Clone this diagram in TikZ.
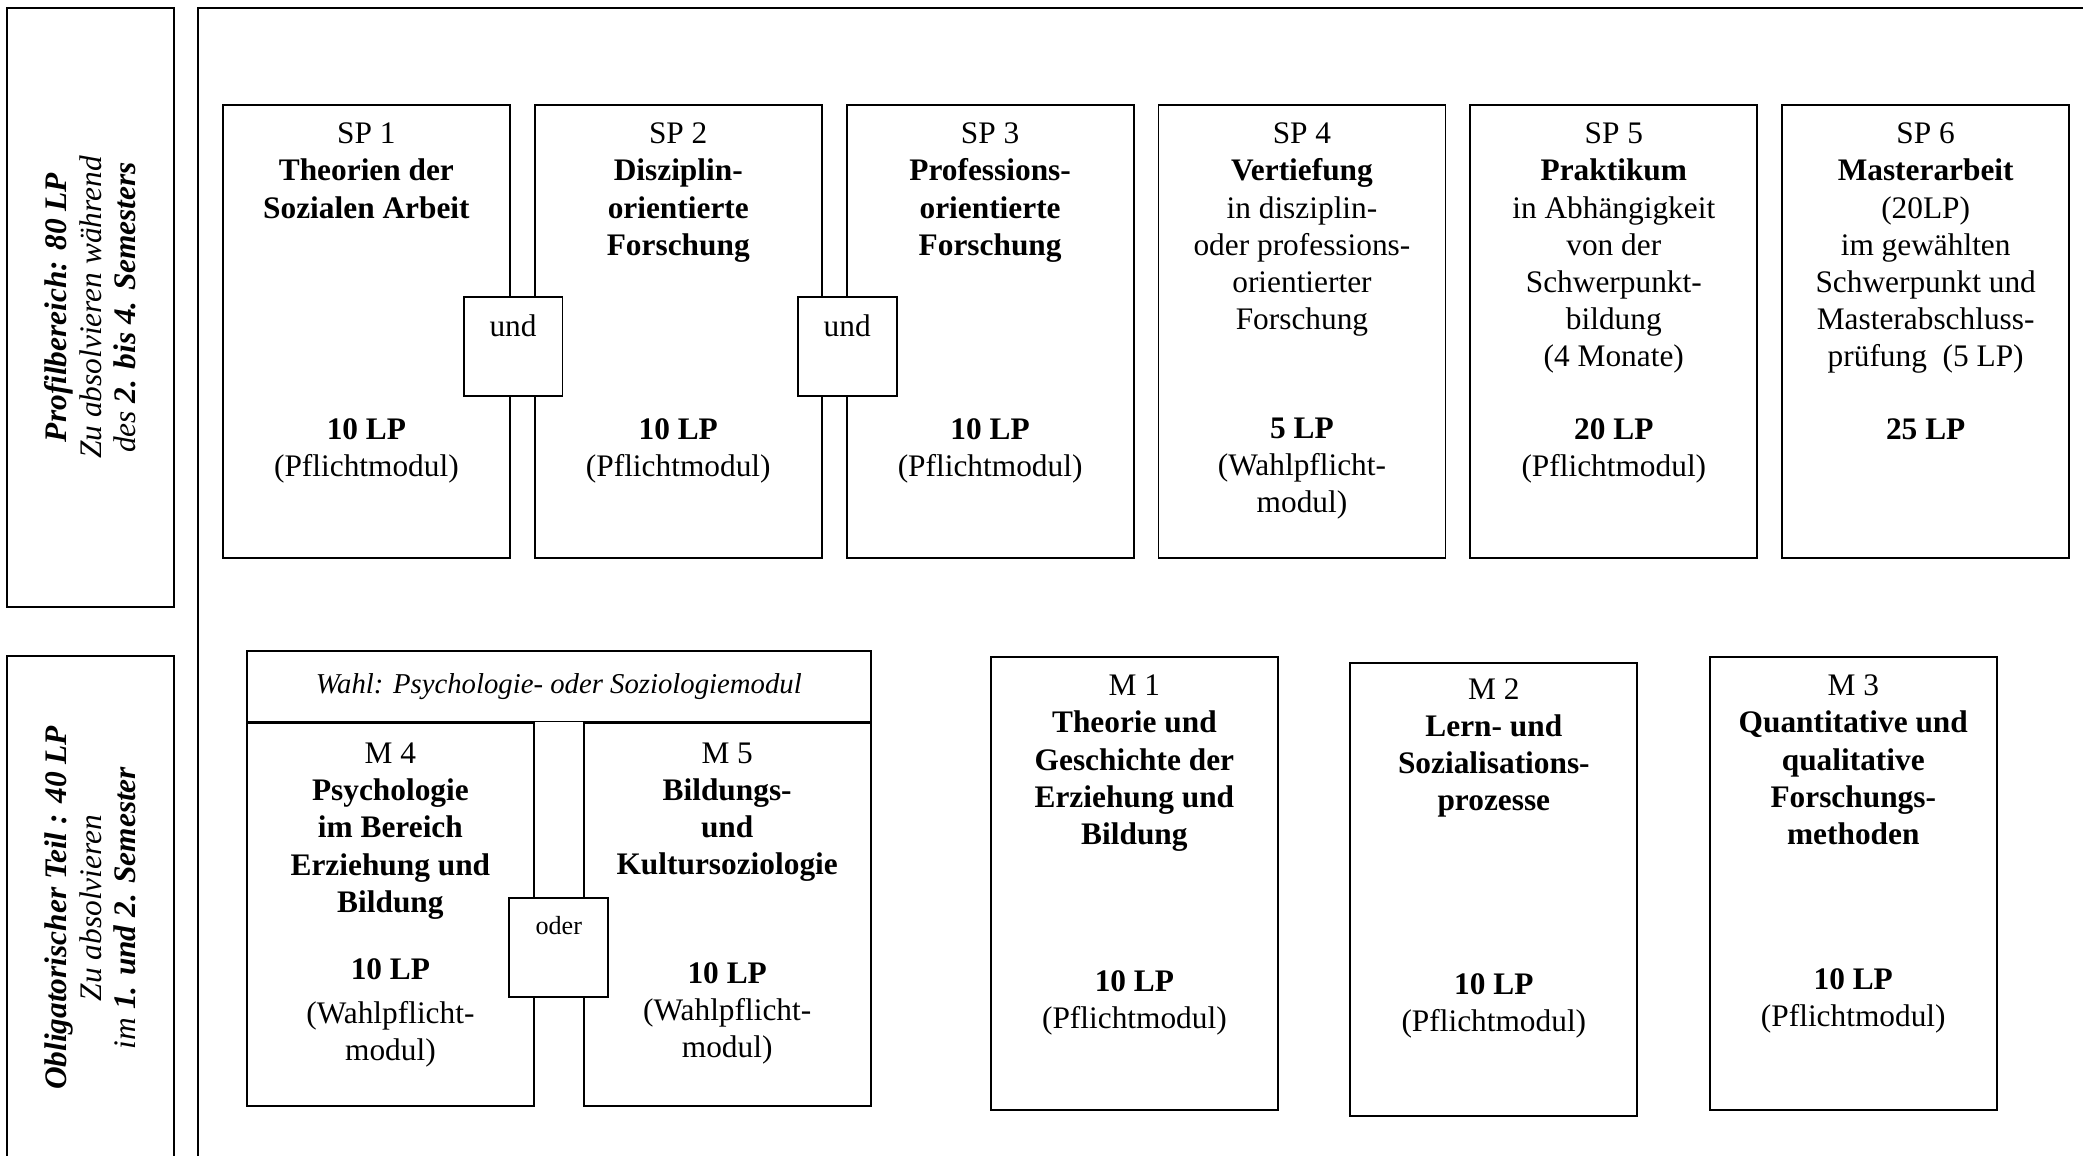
\documentclass[tikz,border=0pt]{standalone}
\usepackage{fontspec}
\setmainfont{Liberation Serif}
\usetikzlibrary{positioning}
\tikzset{
  sp_box/.style={
      rectangle, draw,
      line width=0.7pt,
      minimum width=38.6mm,
      minimum height=60.9mm,
      inner sep=0pt,
    },
  choice_box/.style={
      sp_box,
      minimum height=51.5mm,
    },
  head_box/.style={
      rectangle, draw,
      line width=0.7pt,
      minimum width=83.9mm,
      minimum height=9.5mm,
      inner sep=0pt,
      font=\fontsize{11}{13}\selectfont\itshape,
    },
  area_box/.style={
      rectangle, draw,
      line width=0.7pt,
      rotate=90,
      minimum height=22.5mm,
      align=center,
      inner sep=0pt,
      font=\fontsize{12}{13.2}\selectfont\itshape,
    },
  join_box/.style={
      rectangle, draw, fill=white,
      line width=0.7pt,
      minimum width=13.3mm,
      inner sep=0pt,
      text height=5.4mm,
      text depth=7.9mm,
    },
  title_text/.style={
      align=center,
      inner sep=0pt,
    },
  lp_text/.style={
      align=center,
      inner sep=0pt,
    },
}

\begin{document}
\begin{tikzpicture}[x=0.1345mm, y=-0.1345mm, font=\fontsize{12}{14.2}\selectfont]
  \useasboundingbox (0,0) rectangle (2083,1156);
  % Rahmen und Bereiche links
  \draw[line width=0.7pt] (198,8) rectangle (2110,1175);
  \node[area_box, minimum width=80.6mm] (profil) at (90.5,307.5)
    {\textbf{Profilbereich: 80 LP}\\Zu absolvieren während\\des \textbf{2. bis 4. Semesters}};
  \node[area_box, minimum width=67.8mm] (oblig) at (90.5,908)
    {\textbf{Obligatorischer Teil : 40 LP}\\Zu absolvieren\\im \textbf{1. und 2. Semester}};

  % Profilbereich
  \node[sp_box, anchor=north west] (sp1) at (222,104) {};
  \node[sp_box, right=3.1mm of sp1] (sp2) {};
  \node[sp_box, right=3.1mm of sp2] (sp3) {};
  \node[sp_box, right=3.1mm of sp3] (sp4) {};
  \node[sp_box, right=3.1mm of sp4] (sp5) {};
  \node[sp_box, right=3.1mm of sp5] (sp6) {};

  \node[title_text, below=2.5mm of sp1.north] (sp1_title) {SP 1\\\textbf{Theorien der}\\\textbf{Sozialen Arbeit}};
  \node[title_text, below=2.5mm of sp2.north] (sp2_title) {SP 2\\\textbf{Disziplin-}\\\textbf{orientierte}\\\textbf{Forschung}};
  \node[title_text, below=2.5mm of sp3.north] (sp3_title) {SP 3\\\textbf{Professions-}\\\textbf{orientierte}\\\textbf{Forschung}};
  \node[title_text, below=2.5mm of sp4.north] (sp4_title) {SP 4\\\textbf{Vertiefung}\\in disziplin-\\oder professions-\\orientierter\\Forschung};
  \node[title_text, below=2.5mm of sp5.north] (sp5_title) {SP 5\\\textbf{Praktikum}\\in Abhängigkeit\\von der\\Schwerpunkt-\\bildung\\(4 Monate)};
  \node[title_text, below=2.5mm of sp6.north] (sp6_title) {SP 6\\\textbf{Masterarbeit}\\(20LP)\\im gewählten\\Schwerpunkt und\\Masterabschluss-\\prüfung\ \ (5 LP)};

  \node[lp_text, below=42.2mm of sp1.north] (sp1_lp) {\textbf{10 LP}\\(Pflichtmodul)};
  \node[lp_text, below=42.2mm of sp2.north] (sp2_lp) {\textbf{10 LP}\\(Pflichtmodul)};
  \node[lp_text, below=42.2mm of sp3.north] (sp3_lp) {\textbf{10 LP}\\(Pflichtmodul)};
  \node[lp_text, below=42.2mm of sp4.north] (sp4_lp) {\textbf{5 LP}\\(Wahlpflicht-\\modul)};
  \node[lp_text, below=42.2mm of sp5.north] (sp5_lp) {\textbf{20 LP}\\(Pflichtmodul)};
  \node[lp_text, below=42.2mm of sp6.north] (sp6_lp) {\textbf{25 LP}};

  \node[join_box] (und1) at ([xshift=0.3mm, yshift=-2mm]sp1.east) {und};
  \node[join_box] (und2) at ([xshift=0.2mm, yshift=-2mm]sp3.west) {und};

  % Obligatorischer Teil
  \node[head_box, anchor=north west] (wahl) at (246,650) {Wahl: Psychologie- oder Soziologiemodul};
  \node[choice_box, anchor=north west] (m4) at (wahl.south west) {};
  \node[choice_box, anchor=north east] (m5) at (wahl.south east) {};
  \node[title_text, below=2.7mm of m4.north] (m4_title) {M 4\\\textbf{Psychologie}\\\textbf{im Bereich}\\\textbf{Erziehung und}\\\textbf{Bildung}};
  \node[title_text, below=2.7mm of m5.north] (m5_title) {M 5\\\textbf{Bildungs-}\\\textbf{und}\\\textbf{Kultursoziologie}};
  \node[lp_text, below=31.7mm of m4.north] (m4_lp) {\textbf{10 LP}\\[0.9mm](Wahlpflicht-\\modul)};
  \node[lp_text, below=32.2mm of m5.north] (m5_lp) {\textbf{10 LP}\\(Wahlpflicht-\\modul)};
  \coordinate (oder_pos) at (m4.east -| wahl.south);
  \node[join_box, text height=4.9mm, text depth=8.5mm, font=\fontsize{10}{12}\selectfont] (oder) at ([yshift=-4.4mm]oder_pos) {oder};

  \node[sp_box, anchor=north west] (m1) at (990,656) {};
  \node[sp_box, right=9.5mm of m1, yshift=-0.8mm] (m2) {};
  \node[sp_box, right=9.5mm of m2, yshift=0.8mm] (m3) {};
  \node[title_text, below=2.5mm of m1.north] (m1_title) {M 1\\\textbf{Theorie und}\\\textbf{Geschichte der}\\\textbf{Erziehung und}\\\textbf{Bildung}};
  \node[title_text, below=2.2mm of m2.north] (m2_title) {M 2\\\textbf{Lern- und}\\\textbf{Sozialisations-}\\\textbf{prozesse}};
  \node[title_text, below=2.5mm of m3.north] (m3_title) {M 3\\\textbf{Quantitative und}\\\textbf{qualitative}\\\textbf{Forschungs-}\\\textbf{methoden}};
  \node[lp_text, below=42.2mm of m1.north] (m1_lp) {\textbf{10 LP}\\(Pflichtmodul)};
  \node[lp_text, below=41.9mm of m2.north] (m2_lp) {\textbf{10 LP}\\(Pflichtmodul)};
  \node[lp_text, below=42.0mm of m3.north] (m3_lp) {\textbf{10 LP}\\(Pflichtmodul)};
\end{tikzpicture}
\end{document}
